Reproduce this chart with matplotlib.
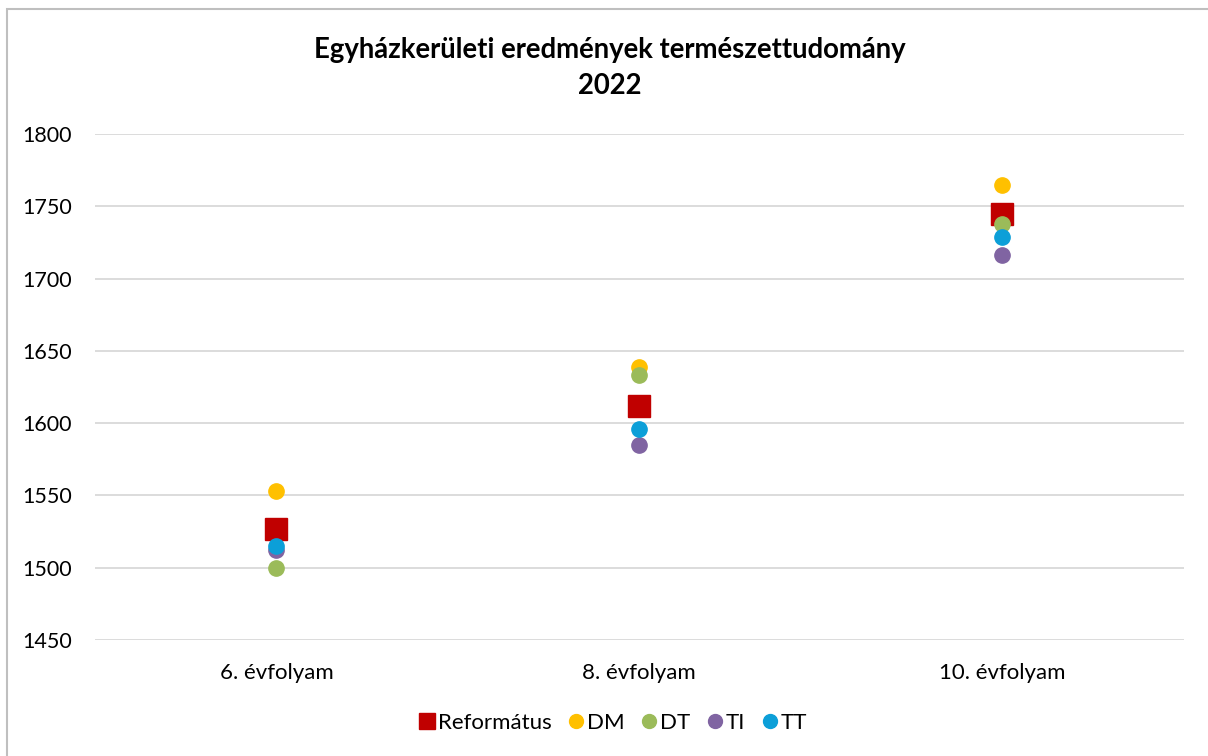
import matplotlib
matplotlib.use("Agg")
import matplotlib.pyplot as plt
from matplotlib.lines import Line2D
from matplotlib.patches import Rectangle

categories = ["6. évfolyam", "8. évfolyam", "10. évfolyam"]
series_names = ["Református", "DM", "DT", "TI", "TT"]
reformatus = [1527, 1612, 1745]
dm = [1553, 1639, 1765]
dt = [1500, 1633, 1738]
ti = [1512, 1585, 1716]
tt = [1515, 1596, 1729]
yticks = [1450, 1500, 1550, 1600, 1650, 1700, 1750, 1800]
title = "Egyházkerületi eredmények természettudomány\n2022"

colors = ["#C00000", "#FFC000", "#9BBB59", "#8064A2", "#0C9FD8"]
values = [reformatus, dm, dt, ti, tt]

plt.rcParams['font.family'] = ['Lato', 'DejaVu Sans']

fig = plt.figure(figsize=(12.08, 7.56), dpi=100)
ax = fig.add_axes([95/1208, 1-640/756, (1183.5-95)/1208, (640-134)/756])

x = list(range(len(categories)))
for name, vals, c in zip(series_names, values, colors):
    if name == "Református":
        ax.plot(x, vals, linestyle="none", marker="s", markersize=16.5, color=c, zorder=3)
    else:
        ax.plot(x, vals, linestyle="none", marker="o", markersize=11, color=c, zorder=3)

ax.set_xlim(-0.5, 2.5)
ax.set_ylim(1450, 1800)
ax.set_yticks(yticks)
ax.set_yticklabels([str(v) for v in yticks])
ax.set_xticks(x)
ax.set_xticklabels(categories)
ax.grid(axis="y", color="#D9D9D9", linewidth=1.3)
ax.set_axisbelow(True)
for s in ax.spines.values():
    s.set_visible(False)
ax.tick_params(axis="y", length=0, pad=16.5, labelsize=15.5, labelcolor="#000000")
ax.tick_params(axis="x", length=0, pad=16.5, labelsize=16, labelcolor="#000000")

fig.text(610/1208, 1-68/756, title, ha="center", va="center", fontsize=19.8,
         fontweight="bold", linespacing=1.45)

handles = []
for name, c in zip(series_names, colors):
    m = "s" if name == "Református" else "o"
    ms = 11 if m == "s" else 10
    handles.append(Line2D([], [], linestyle="none", marker=m, markersize=ms, color=c, label=name))
fig.legend(handles=handles, loc="center", bbox_to_anchor=(612/1208, 1-723/756), ncol=5,
           frameon=False, fontsize=16, handletextpad=0.05, columnspacing=0.65, handlelength=0.9)

border = Rectangle((6.5/1208, -0.01), 1.05, 1 - 8.5/756 + 0.01, transform=fig.transFigure,
                   fill=False, edgecolor="#BFBFBF", linewidth=1.5, zorder=10)
fig.patches.append(border)

fig.savefig("out.png", dpi=100)
